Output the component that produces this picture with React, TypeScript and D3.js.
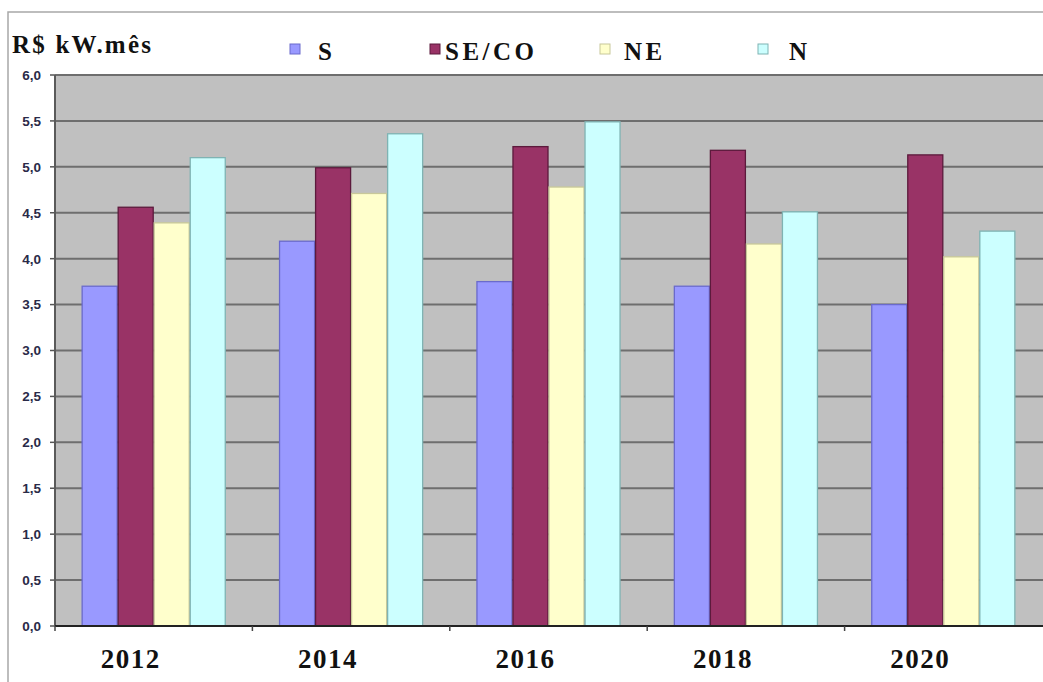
import React from "react";
import * as d3 from "d3";

const years = ["2012", "2014", "2016", "2018", "2020"];
const seriesNames = ["S", "SE/CO", "NE", "N"];
const valuesS = [3.7, 4.19, 3.75, 3.7, 3.5];
const valuesSECO = [4.56, 4.99, 5.22, 5.18, 5.13];
const valuesNE = [4.39, 4.71, 4.78, 4.16, 4.02];
const valuesN = [5.1, 5.36, 5.49, 4.51, 4.3];
const yTicks = [0, 0.5, 1, 1.5, 2, 2.5, 3, 3.5, 4, 4.5, 5, 5.5, 6];
const yTitle = "R$ kW.mês";

const fills = ["#9999ff", "#993366", "#ffffcc", "#ccffff"];
const strokes = ["#6a6acc", "#5c1a3c", "#c8c89a", "#7fb3b3"];

export default function App() {
  const W = 1043, H = 682;
  const left = 55, right = 1042, top = 75, bottom = 626;
  const series = [valuesS, valuesSECO, valuesNE, valuesN];

  const x = d3.scaleBand<string>().domain(years).range([left, right]).padding(0);
  const bw = x.bandwidth();
  const xs = d3.scaleBand<string>().domain(seriesNames).range([bw * 0.135, bw * 0.865]).padding(0);
  const y = d3.scaleLinear().domain([0, 6]).range([bottom, top]);
  const fmt = (v: number) => v.toFixed(1).replace(".", ",");

  const legendX = [290, 430, 600, 758];
  const legendTextX = [318, 445, 624, 789];
  const serif = "'Liberation Serif', 'Times New Roman', serif";

  return (
    <svg width={W} height={H} style={{ position: "absolute", left: 0, top: 0, background: "#fff" }}>
      <rect x={8} y={12} width={1100} height={720} fill="#fff" stroke="#a8a8a8" strokeWidth={1.5} />
      <text x={12} y={53} fontFamily={serif} fontWeight="bold" fontSize={25} letterSpacing={2.2} fill="#111">
        {yTitle}
      </text>
      {seriesNames.map((s, i) => (
        <g key={s}>
          <rect x={legendX[i]} y={44} width={10} height={10} fill={fills[i]} stroke={strokes[i]} strokeWidth={1} />
          <text x={legendTextX[i]} y={60} fontFamily={serif} fontWeight="bold" fontSize={25} letterSpacing={3.5} fill="#111">
            {s}
          </text>
        </g>
      ))}
      <rect x={left} y={top} width={right - left + 10} height={bottom - top} fill="#c0c0c0" />
      {yTicks.map((t) => (
        <g key={t}>
          {t > 0 && <line x1={left} x2={right + 10} y1={y(t)} y2={y(t)} stroke="#6e6e6e" strokeWidth={2} />}
          <line x1={left - 5} x2={left} y1={y(t)} y2={y(t)} stroke="#555" strokeWidth={1.5} />
          <text x={41} y={y(t)} dy="0.36em" textAnchor="end" fontFamily="'Liberation Sans', Arial, sans-serif" fontWeight="bold" fontSize={13.5} fill="#2a2a48">
            {fmt(t)}
          </text>
        </g>
      ))}
      {years.map((yr, yi) => (
        <g key={yr} transform={`translate(${x(yr)},0)`}>
          {series.map((vals, si) => (
            <rect
              key={si}
              x={xs(seriesNames[si])! + 0.5}
              y={y(vals[yi])}
              width={xs.bandwidth() - 1}
              height={bottom - y(vals[yi])}
              fill={fills[si]}
              stroke={strokes[si]}
              strokeWidth={1.3}
            />
          ))}
        </g>
      ))}
      <line x1={left} x2={left} y1={top} y2={bottom} stroke="#5a5a5a" strokeWidth={2} />
      <line x1={left} x2={right + 10} y1={bottom} y2={bottom} stroke="#222" strokeWidth={2} />
      {years.map((yr) => (
        <line key={yr} x1={x(yr)!} x2={x(yr)!} y1={bottom} y2={bottom + 5} stroke="#444" strokeWidth={1.5} />
      ))}
      {years.map((yr) => (
        <text
          key={yr}
          x={x(yr)! + bw / 2 - 23}
          y={668}
          textAnchor="middle"
          fontFamily={serif}
          fontWeight="bold"
          fontSize={27}
          letterSpacing={1.5}
          fill="#111"
        >
          {yr}
        </text>
      ))}
    </svg>
  );
}
